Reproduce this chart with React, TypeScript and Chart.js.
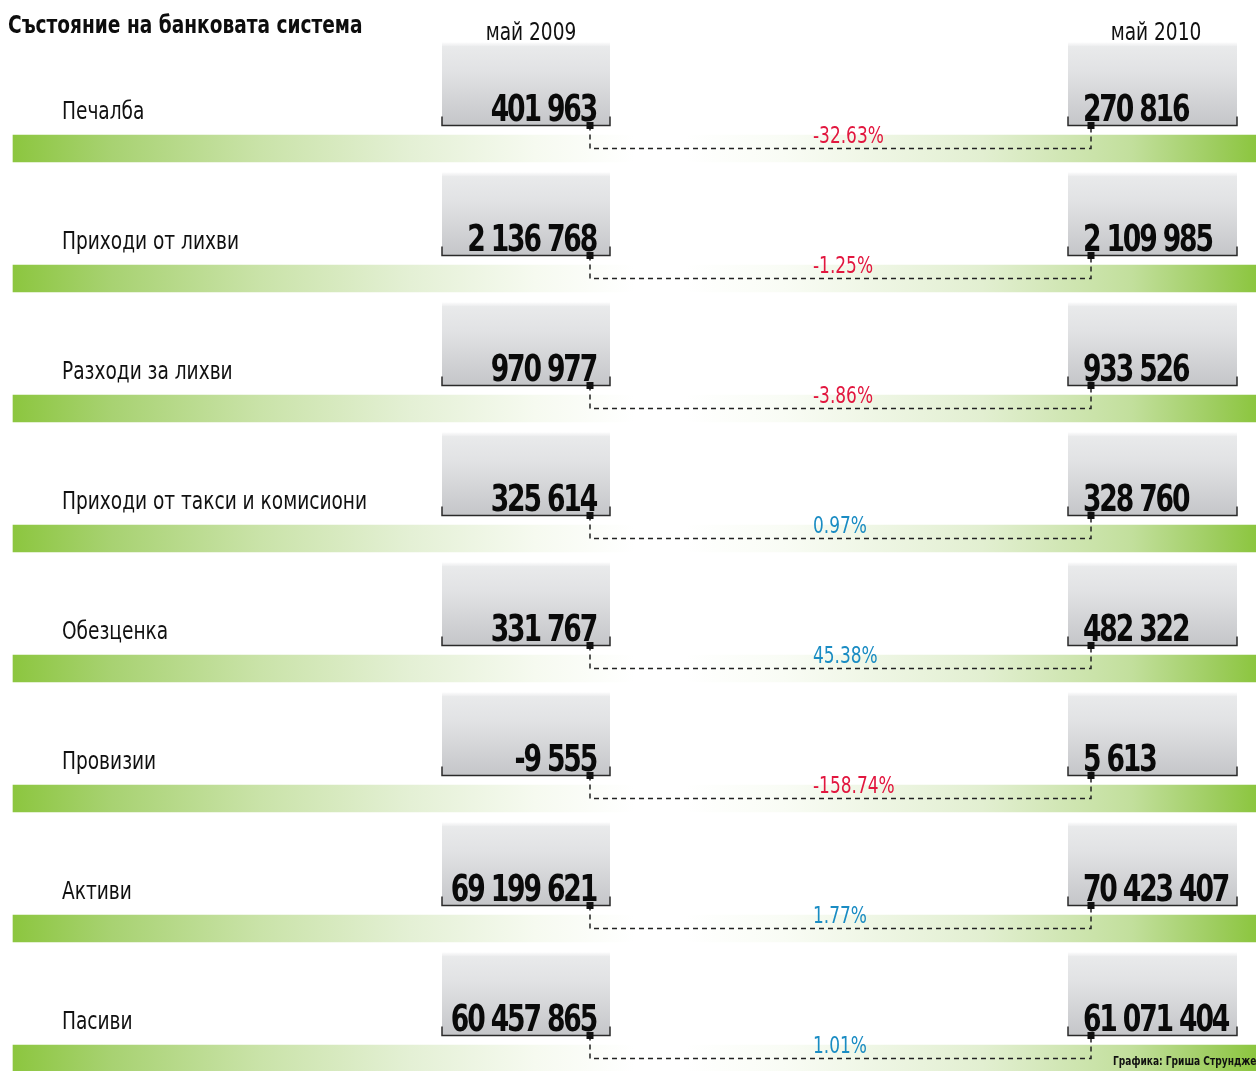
import { useEffect, useRef } from "react";
import { Chart, registerables } from "chart.js";

Chart.register(...registerables);

// ---- data ----
const title = "Състояние на банковата система";
const periods = ["май 2009", "май 2010"];
const categories = [
  "Печалба",
  "Приходи от лихви",
  "Разходи за лихви",
  "Приходи от такси и комисиони",
  "Обезценка",
  "Провизии",
  "Активи",
  "Пасиви",
];
const values2009 = [401963, 2136768, 970977, 325614, 331767, -9555, 69199621, 60457865];
const values2010 = [270816, 2109985, 933526, 328760, 482322, 5613, 70423407, 61071404];
const changes = [-32.63, -1.25, -3.86, 0.97, 45.38, -158.74, 1.77, 1.01];
const credit = "Графика: Гриша Струнджев";

// ---- styling / layout ----
const FONT = '"DejaVu Sans Condensed", "DejaVu Sans", "Noto Sans", sans-serif';
const W = 1256;
const H = 1071;
const RED = "#e2173f";
const BLUE = "#1a8cc3";
const GREEN = "#8cc63f";
const BAR_SPAN: [number, number] = [13, 1256];

const fmtNum = (v: number) => {
  const s = Math.abs(v).toString().replace(/\B(?=(\d{3})+(?!\d))/g, " ");
  return (v < 0 ? "-" : "") + s;
};
const fmtPct = (v: number) => v.toFixed(2) + "%";

// draw text horizontally compressed to imitate a condensed typeface
function drawText(
  ctx: any,
  text: string,
  x: number,
  y: number,
  font: string,
  color: string,
  align: CanvasTextAlign,
  sx: number,
  spacing = 0
) {
  ctx.save();
  ctx.translate(x, y);
  ctx.scale(sx, 1);
  ctx.font = font;
  ctx.fillStyle = color;
  ctx.textAlign = align;
  ctx.textBaseline = "alphabetic";
  if ("letterSpacing" in ctx) ctx.letterSpacing = `${spacing}px`;
  ctx.fillText(text, 0, 0);
  ctx.restore();
}

const infographicPlugin = {
  id: "infographic",
  afterDatasetsDraw(chart: any) {
    const { ctx } = chart;
    const xs = chart.scales.x;
    const ys = chart.scales.y;
    const px = (v: number) => xs.getPixelForValue(v);
    ctx.save();

    // title and period headers
    drawText(ctx, title, px(8), 33, `bold 24px ${FONT}`, "#0d0d0d", "left", 0.86);
    drawText(ctx, periods[0], px(531), 40, `24px ${FONT}`, "#111", "center", 0.86);
    drawText(ctx, periods[1], px(1156), 40, `24px ${FONT}`, "#111", "center", 0.86);

    const boxes = [
      { l: 442, r: 610 },
      { l: 1068, r: 1237 },
    ];

    categories.forEach((cat, i) => {
      const cy = ys.getPixelForValue(i);
      const boxTop = cy - 106;
      const boxBot = cy - 23;

      // category label
      drawText(ctx, cat, px(62), cy - 30, `24px ${FONT}`, "#111", "left", 0.86);

      // gray boxes
      boxes.forEach((b) => {
        const g = ctx.createLinearGradient(0, boxTop, 0, boxBot);
        g.addColorStop(0, "rgba(236,236,238,0.2)");
        g.addColorStop(0.05, "#e9eaeb");
        g.addColorStop(0.35, "#e1e2e4");
        g.addColorStop(1, "#c5c6c9");
        ctx.fillStyle = g;
        ctx.fillRect(px(b.l), boxTop, px(b.r) - px(b.l), boxBot - boxTop);
        ctx.strokeStyle = "#2a2a2a";
        ctx.lineWidth = 1.5;
        ctx.setLineDash([]);
        ctx.beginPath();
        ctx.moveTo(px(b.l), boxBot - 9);
        ctx.lineTo(px(b.l), boxBot);
        ctx.lineTo(px(b.r), boxBot);
        ctx.lineTo(px(b.r), boxBot - 9);
        ctx.stroke();
      });

      // values
      drawText(ctx, fmtNum(values2009[i]), px(596), cy - 28, `bold 37px ${FONT}`, "#0a0a0a", "right", 0.8, -2.7);
      drawText(ctx, fmtNum(values2010[i]), px(1083), cy - 28, `bold 37px ${FONT}`, "#0a0a0a", "left", 0.8, -2.7);

      // dashed connector
      const x1 = px(590);
      const x2 = px(1091);
      ctx.strokeStyle = "#222";
      ctx.lineWidth = 1.5;
      ctx.setLineDash([5, 4]);
      ctx.beginPath();
      ctx.moveTo(x1, boxBot);
      ctx.lineTo(x1, cy);
      ctx.lineTo(x2, cy);
      ctx.lineTo(x2, boxBot);
      ctx.stroke();
      ctx.setLineDash([]);
      ctx.fillStyle = "#111";
      ctx.fillRect(x1 - 3.5, boxBot - 3.5, 7, 7);
      ctx.fillRect(x2 - 3.5, boxBot - 3.5, 7, 7);

      // change
      drawText(
        ctx,
        fmtPct(changes[i]),
        px(813),
        cy - 5.5,
        `23px ${FONT}`,
        changes[i] < 0 ? RED : BLUE,
        "left",
        0.82
      );
    });

    // credit
    drawText(ctx, credit, px(1113), 1065, `bold 12px ${FONT}`, "#111", "left", 0.84);
    ctx.restore();
  },
};

export default function App() {
  const ref = useRef<HTMLCanvasElement | null>(null);

  useEffect(() => {
    document.body.style.margin = "0";
    const canvas = ref.current;
    if (!canvas) return;
    const chart = new Chart(canvas, {
      type: "bar",
      data: {
        labels: categories,
        datasets: [
          {
            data: categories.map(() => BAR_SPAN),
            barThickness: 27,
            borderWidth: 0,
            clip: false,
            backgroundColor: (c: any) => {
              const ch = c.chart;
              if (!ch.chartArea) return GREEN;
              const xs = ch.scales.x;
              const x0 = xs.getPixelForValue(BAR_SPAN[0]);
              const x1 = xs.getPixelForValue(BAR_SPAN[1]);
              const g = ch.ctx.createLinearGradient(x0, 0, x1, 0);
              g.addColorStop(0, "#8cc63f");
              g.addColorStop(0.08, "#a8d272");
              g.addColorStop(0.2, "#cae3a9");
              g.addColorStop(0.32, "#e4f0d5");
              g.addColorStop(0.42, "#f6faf0");
              g.addColorStop(0.5, "#ffffff");
              g.addColorStop(0.54, "#ffffff");
              g.addColorStop(0.62, "#f9fcf5");
              g.addColorStop(0.78, "#e2efd1");
              g.addColorStop(0.9, "#c2df9c");
              g.addColorStop(0.97, "#9ccc5c");
              g.addColorStop(1, "#8cc63f");
              return g;
            },
          } as any,
        ],
      },
      options: {
        indexAxis: "y",
        animation: false,
        responsive: false,
        maintainAspectRatio: false,
        layout: { padding: { top: 148.5, bottom: 12.5, left: 0, right: 0 } },
        plugins: { legend: { display: false }, tooltip: { enabled: false } },
        scales: {
          x: { type: "linear", min: 0, max: W, display: false },
          y: { type: "category", offset: false, display: false, grid: { display: false } },
        },
      },
      plugins: [infographicPlugin],
    });
    return () => chart.destroy();
  }, []);

  return (
    <div style={{ width: W, height: H, overflow: "hidden", background: "#fff" }}>
      <canvas ref={ref} width={W} height={H} style={{ display: "block" }} />
    </div>
  );
}
